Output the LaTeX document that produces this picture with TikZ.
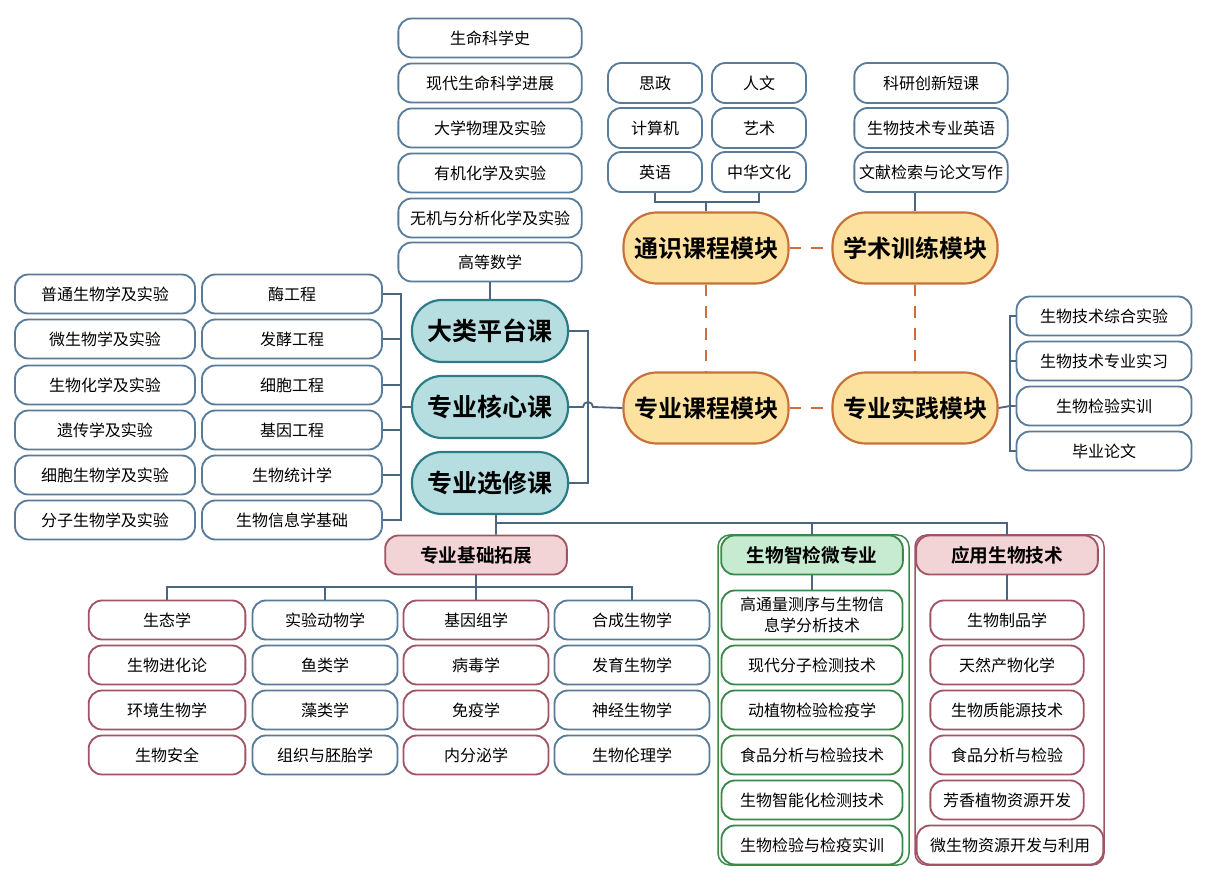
\documentclass[tikz,border=0pt]{standalone}
\usepackage{fontspec}
\setmainfont{Noto Sans CJK SC}[BoldFont={Noto Sans CJK SC Bold}]
\usetikzlibrary{positioning}

\definecolor{boxblue}{RGB}{88,124,154}
\definecolor{linkblue}{RGB}{74,102,128}
\definecolor{tealfill}{RGB}{182,221,224}
\definecolor{tealline}{RGB}{44,124,134}
\definecolor{yelfill}{RGB}{252,226,158}
\definecolor{yelline}{RGB}{198,112,58}
\definecolor{dashorange}{RGB}{206,108,60}
\definecolor{pinkfill}{RGB}{242,212,215}
\definecolor{pinkline}{RGB}{160,84,100}
\definecolor{greenfill}{RGB}{198,235,208}
\definecolor{greenline}{RGB}{58,138,74}

\begin{document}
\begin{tikzpicture}[x=0.6pt, y=-0.6pt,
    box/.style={draw, rounded corners=8pt, line width=1.1pt, fill=white, minimum height=23.4pt, inner sep=1pt, font=\fontsize{9.6}{11.5}\selectfont},
    bluebox/.style={box, draw=boxblue},
    pinkbox/.style={box, draw=pinkline},
    greenbox/.style={box, draw=greenline},
    module/.style={draw=yelline, fill=yelfill, line width=1.3pt, rounded corners=20pt, minimum width=99pt, minimum height=42.6pt, font=\fontsize{14.4}{16}\selectfont\bfseries},
    course/.style={draw=tealline, fill=tealfill, line width=1.3pt, rounded corners=18pt, minimum width=93.6pt, minimum height=37.2pt, font=\fontsize{15}{17}\selectfont\bfseries},
    head/.style={box, minimum width=109pt, font=\fontsize{11.2}{13}\selectfont\bfseries},
    link/.style={draw=linkblue, line width=1.1pt},
    dashlink/.style={draw=dashorange, line width=1.3pt, dash pattern=on 7pt off 6pt},
    frame/.style={line width=0.9pt, rounded corners=7pt}]
        \fill[white] (0,0) rectangle (1226,884);

        % outer frames of the two minors
        \draw[frame, draw=greenline] (718,535) rectangle (909,865);
        \draw[frame, draw=pinkline] (915,535) rectangle (1104,865);

        % four modules
        \node[module] (tongshi) at (706,248) {通识课程模块};
        \node[module] (xueshu) at (915,248) {学术训练模块};
        \node[module] (zhuanye) at (706,408) {专业课程模块};
        \node[module] (shijian) at (915,408) {专业实践模块};
        \draw[dashlink] (tongshi) -- (xueshu);
        \draw[dashlink] (tongshi) -- (zhuanye);
        \draw[dashlink] (xueshu) -- (shijian);
        \draw[dashlink] (zhuanye) -- (shijian);

        % general education
        \node[bluebox, minimum width=56.4pt, minimum height=24pt] (ge1) at (655,83) {思政};
        \node[bluebox, minimum width=56.4pt, minimum height=24pt] (ge2) at (759,83) {人文};
        \node[bluebox, minimum width=56.4pt, minimum height=24pt] (ge3) at (655,128) {计算机};
        \node[bluebox, minimum width=56.4pt, minimum height=24pt] (ge4) at (759,128) {艺术};
        \node[bluebox, minimum width=56.4pt, minimum height=24pt] (ge5) at (655,172) {英语};
        \node[bluebox, minimum width=56.4pt, minimum height=24pt] (ge6) at (759,172) {中华文化};
        \coordinate (gebrk) at (706,202);
        \draw[link] (ge5.south) |- (gebrk) -| (ge6.south);
        \draw[link] (gebrk) -- (tongshi.north);

        % academic training
        \node[bluebox, minimum width=92pt, minimum height=24pt] (ac1) at (931,83) {科研创新短课};
        \node[bluebox, minimum width=92pt, minimum height=24pt] (ac2) at (931,128) {生物技术专业英语};
        \node[bluebox, minimum width=92pt, minimum height=24pt] (ac3) at (931,172) {文献检索与论文写作};
        \draw[link] (xueshu.north) -- (xueshu.north |- ac3.south);

        % practice
        \node[bluebox, minimum width=105pt] (pr1) at (1104,316) {生物技术综合实验};
        \node[bluebox, minimum width=105pt] (pr2) at (1104,361) {生物技术专业实习};
        \node[bluebox, minimum width=105pt] (pr3) at (1104,406) {生物检验实训};
        \node[bluebox, minimum width=105pt] (pr4) at (1104,451) {毕业论文};
        \coordinate (prbrk) at (1010,406);
        \draw[link] (pr1.west) -| (prbrk);
        \draw[link] (pr4.west) -| (prbrk);
        \draw[link] (pr2.west) -- (pr2.west -| prbrk);
        \draw[link] (pr3.west) -- (prbrk) -- (shijian.east);

        % course groups
        \node[course] (dalei) at (490,331) {大类平台课};
        \node[course] (hexin) at (490,407) {专业核心课};
        \node[course] (xuanxiu) at (490,483) {专业选修课};
        \coordinate (crbrk) at (588,407);
        \draw[link] (dalei.east) -| (crbrk);
        \draw[link] (xuanxiu.east) -| (crbrk);
        \draw[link] (hexin.east) -- ([xshift=-3pt]crbrk) arc (180:0:3pt) -- (zhuanye.west);

        % platform courses
        \node[bluebox, minimum width=110pt] (pt1) at (490,38) {生命科学史};
        \node[bluebox, minimum width=110pt] (pt2) at (490,83) {现代生命科学进展};
        \node[bluebox, minimum width=110pt] (pt3) at (490,128) {大学物理及实验};
        \node[bluebox, minimum width=110pt] (pt4) at (490,173) {有机化学及实验};
        \node[bluebox, minimum width=110pt] (pt5) at (490,218) {无机与分析化学及实验};
        \node[bluebox, minimum width=110pt] (pt6) at (490,262) {高等数学};
        \draw[link] (pt6.south) -- (dalei.north);

        % core courses
        \node[bluebox, minimum width=108pt] (la1) at (105,294) {普通生物学及实验};
        \node[bluebox, minimum width=108pt] (la2) at (105,339) {微生物学及实验};
        \node[bluebox, minimum width=108pt] (la3) at (105,385) {生物化学及实验};
        \node[bluebox, minimum width=108pt] (la4) at (105,430) {遗传学及实验};
        \node[bluebox, minimum width=108pt] (la5) at (105,475) {细胞生物学及实验};
        \node[bluebox, minimum width=108pt] (la6) at (105,520) {分子生物学及实验};
        \node[bluebox, minimum width=108pt] (lb1) at (292,294) {酶工程};
        \node[bluebox, minimum width=108pt] (lb2) at (292,339) {发酵工程};
        \node[bluebox, minimum width=108pt] (lb3) at (292,385) {细胞工程};
        \node[bluebox, minimum width=108pt] (lb4) at (292,430) {基因工程};
        \node[bluebox, minimum width=108pt] (lb5) at (292,475) {生物统计学};
        \node[bluebox, minimum width=108pt] (lb6) at (292,520) {生物信息学基础};
        \coordinate (lbrk) at (401,407);
        \draw[link] (lb1.east) -| (lbrk);
        \draw[link] (lb6.east) -| (lbrk);
        \draw[link] (lb2.east) -- (lb2.east -| lbrk);
        \draw[link] (lb3.east) -- (lb3.east -| lbrk);
        \draw[link] (lb4.east) -- (lb4.east -| lbrk);
        \draw[link] (lb5.east) -- (lb5.east -| lbrk);
        \draw[link] (lbrk) -- (hexin.west);

        % elective branches
        \node[head, draw=pinkline, fill=pinkfill] (jichu) at (476,555) {专业基础拓展};
        \node[head, draw=greenline, fill=greenfill] (zhijian) at (812,555) {生物智检微专业};
        \node[head, draw=pinkline, fill=pinkfill] (yingyong) at (1007,555) {应用生物技术};
        \coordinate (bus) at (496,523);
        \draw[link] ([xshift=3.6pt]xuanxiu.south) -- (bus |- jichu.north);
        \draw[link] (bus) -| (zhijian.north);
        \draw[link] (bus) -| (yingyong.north);

        % basic extension
        \node[pinkbox, minimum width=94pt] (ea1) at (167,620) {生态学};
        \node[pinkbox, minimum width=94pt] (ea2) at (167,665) {生物进化论};
        \node[pinkbox, minimum width=94pt] (ea3) at (167,710) {环境生物学};
        \node[pinkbox, minimum width=94pt] (ea4) at (167,755) {生物安全};
        \node[bluebox, minimum width=87pt] (eb1) at (325,620) {实验动物学};
        \node[bluebox, minimum width=87pt] (eb2) at (325,665) {鱼类学};
        \node[bluebox, minimum width=87pt] (eb3) at (325,710) {藻类学};
        \node[bluebox, minimum width=87pt] (eb4) at (325,755) {组织与胚胎学};
        \node[pinkbox, minimum width=87pt] (ec1) at (476,620) {基因组学};
        \node[pinkbox, minimum width=87pt] (ec2) at (476,665) {病毒学};
        \node[pinkbox, minimum width=87pt] (ec3) at (476,710) {免疫学};
        \node[pinkbox, minimum width=87pt] (ec4) at (476,755) {内分泌学};
        \node[bluebox, minimum width=93pt] (ed1) at (632,620) {合成生物学};
        \node[bluebox, minimum width=93pt] (ed2) at (632,665) {发育生物学};
        \node[bluebox, minimum width=93pt] (ed3) at (632,710) {神经生物学};
        \node[bluebox, minimum width=93pt] (ed4) at (632,755) {生物伦理学};
        \coordinate (bus2) at (476,587);
        \draw[link] (jichu.south) -- (bus2);
        \draw[link] (bus2) -| (ea1.north);
        \draw[link] (bus2) -| (eb1.north);
        \draw[link] (bus2) -- (ec1.north);
        \draw[link] (bus2) -| (ed1.north);

        % micro major
        \node[greenbox, minimum width=108.6pt, minimum height=29.4pt, align=center, font=\fontsize{9.6}{13}\selectfont] (gm1) at (812,615) {高通量测序与生物信\\息学分析技术};
        \node[greenbox, minimum width=108.6pt] (gm2) at (812,665) {现代分子检测技术};
        \node[greenbox, minimum width=108.6pt] (gm3) at (812,710) {动植物检验检疫学};
        \node[greenbox, minimum width=108.6pt] (gm4) at (812,755) {食品分析与检验技术};
        \node[greenbox, minimum width=108.6pt] (gm5) at (812,800) {生物智能化检测技术};
        \node[greenbox, minimum width=108.6pt] (gm6) at (812,845) {生物检验与检疫实训};
        \draw[link] (zhijian.south) -- (gm1.north);

        % applied biotech
        \node[pinkbox, minimum width=92pt] (ab1) at (1007,620) {生物制品学};
        \node[pinkbox, minimum width=92pt] (ab2) at (1007,665) {天然产物化学};
        \node[pinkbox, minimum width=92pt] (ab3) at (1007,710) {生物质能源技术};
        \node[pinkbox, minimum width=92pt] (ab4) at (1007,755) {食品分析与检验};
        \node[pinkbox, minimum width=92pt] (ab5) at (1007,800) {芳香植物资源开发};
        \node[pinkbox, minimum width=112pt] (ab6) at (1010,845) {微生物资源开发与利用};
        \draw[link] (yingyong.south) -- (ab1.north);
    \end{tikzpicture}
\end{document}
